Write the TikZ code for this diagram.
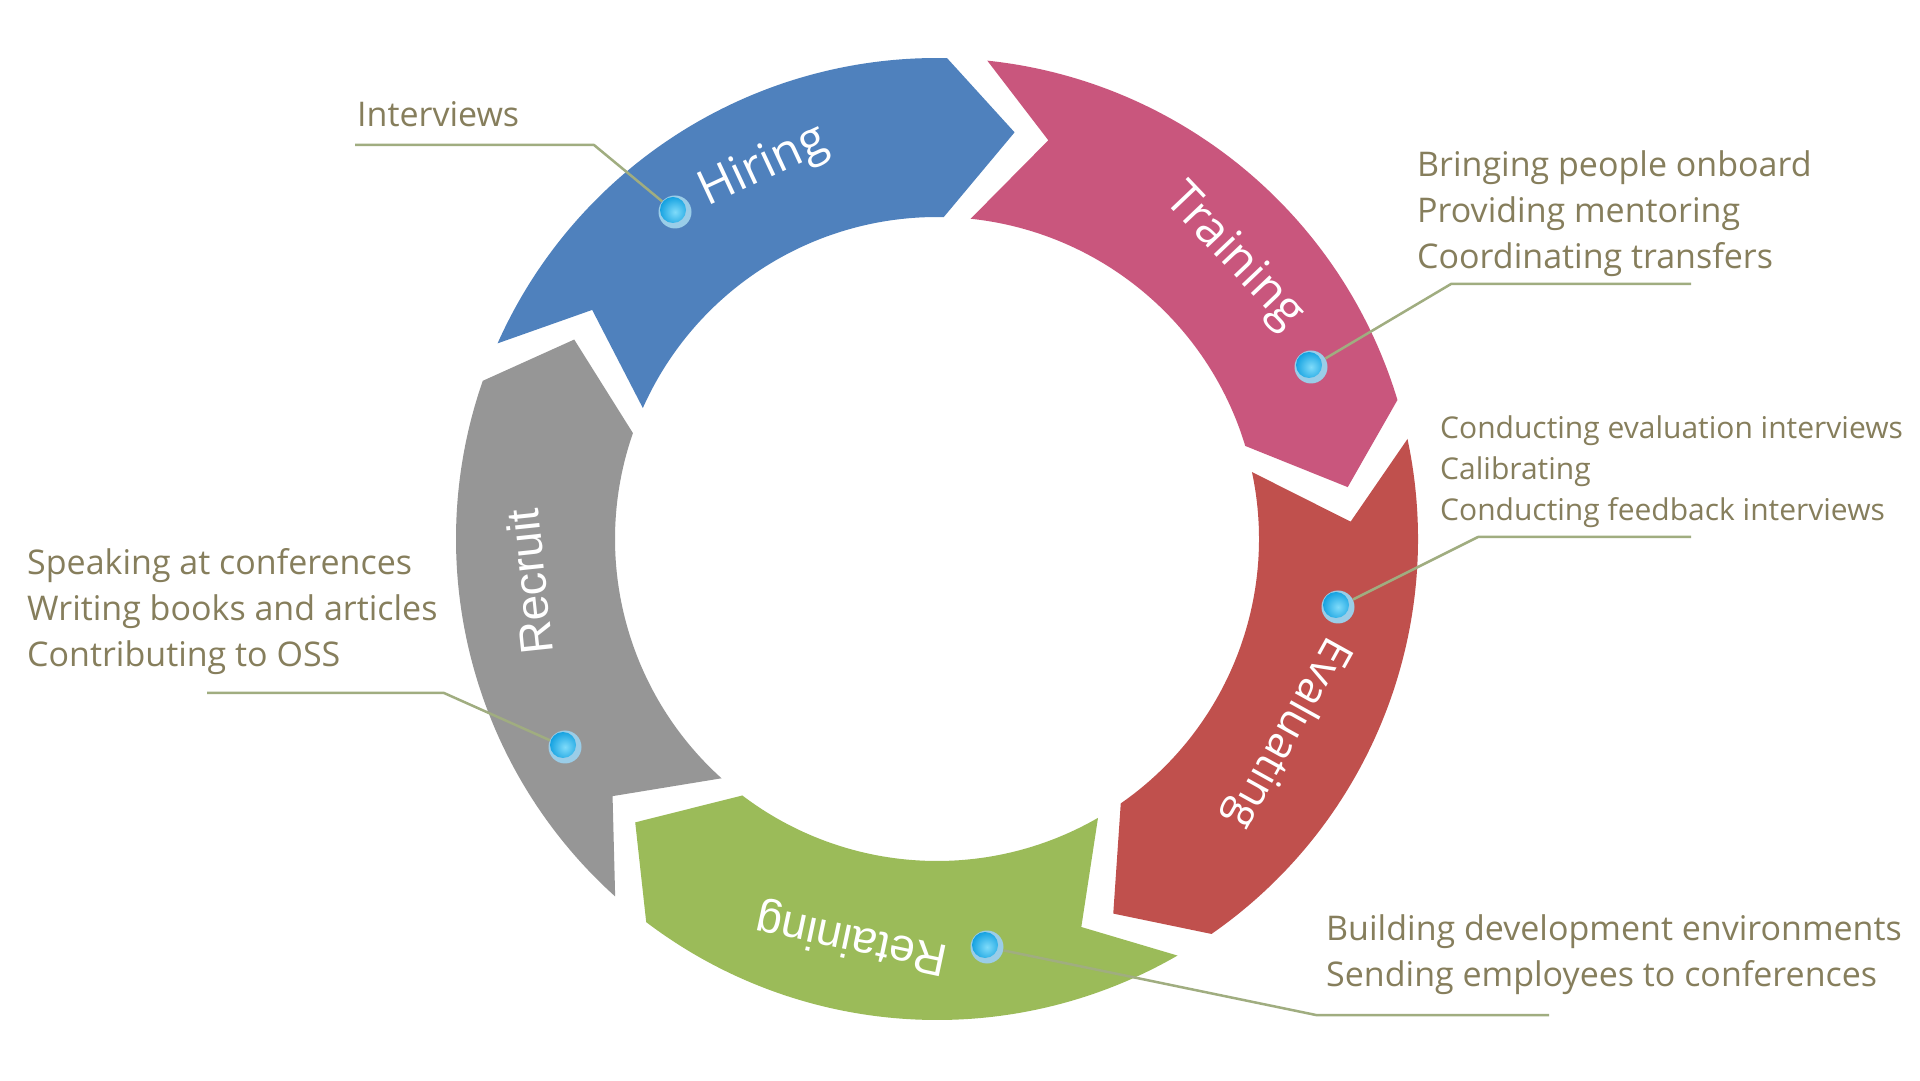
\documentclass[tikz,border=0pt]{standalone}
\usepackage{fontspec}
\setmainfont{Open Sans}
\newfontfamily\arialfam{Liberation Sans}
\definecolor{hirecol}{HTML}{4F81BD}
\definecolor{traincol}{HTML}{C9567D}
\definecolor{evalcol}{HTML}{C0504D}
\definecolor{retcol}{HTML}{9BBB59}
\definecolor{reccol}{HTML}{969696}
\definecolor{txtcol}{HTML}{867E5C}
\definecolor{leadcol}{HTML}{A0AD80}
\definecolor{dotrimcol}{HTML}{9ACDE8}
\definecolor{dotincol}{HTML}{7FDBFA}
\definecolor{dotoutcol}{HTML}{0E9EDF}
\begin{document}
\begin{tikzpicture}[x=1pt,y=1pt,
  seglabel/.style={text=white, inner sep=0pt, font=\fontsize{48}{48}\selectfont},
  seglabelb/.style={text=white, inner sep=0pt, font=\arialfam\fontsize{46}{46}\selectfont},
  notetext/.style={text=txtcol, anchor=base west, inner sep=0pt, font=\fontsize{34}{46}\selectfont},
  smallnote/.style={notetext, font=\fontsize{30}{38}\selectfont},
  leaderline/.style={draw=leadcol, line width=2.5pt, line join=round},
  dotnode/.style={circle, inner sep=0pt, minimum size=33pt, fill=dotrimcol,
    path picture={\shade[inner color=dotincol, outer color=dotoutcol]
      ([shift={(-2pt,2pt)}]path picture bounding box.center) circle[radius=13pt];}}
]
\useasboundingbox (0,0) rectangle (1920,1080);
\fill[white] (0,0) rectangle (1920,1080);

% ring segments
\begin{scope}[shift={(937,541)}]
  \foreach \tailang/\segcol in {156/hirecol, 84/traincol, 12/evalcol, -60/retcol, -132/reccol} {
    \pgfmathsetmacro\segH{\tailang-67.2}
    \pgfmathsetmacro\segP{\tailang-76.8}
    \pgfmathsetmacro\segN{\tailang-9.6}
    \fill[\segcol] (\tailang:481) arc[start angle=\tailang, end angle=\segH, radius=481]
      -- (\segP:414) -- (\segH:322) arc[start angle=\segH, end angle=\tailang, radius=322]
      -- (\segN:414) -- cycle;
  }
\end{scope}

% dots
\node[dotnode] (dHire) at (675,868) {};
\node[dotnode] (dTrain) at (1311,713) {};
\node[dotnode] (dEval) at (1338,473) {};
\node[dotnode] (dRet) at (987,133) {};
\node[dotnode] (dRec) at (565,333) {};

% leader line coordinates
\coordinate (kHire) at (594,935);
\coordinate (eHire) at (355,935);
\coordinate (kTrain) at (1451,796);
\coordinate (eTrain) at (1691,796);
\coordinate (kEval) at (1478,543);
\coordinate (eEval) at (1691,543);
\coordinate (kRet) at (1316,65);
\coordinate (eRet) at (1549,65);
\coordinate (kRec) at (444,387);
\coordinate (eRec) at (207,387);

\draw[leaderline] (eHire) -- (kHire) -- (dHire);
\draw[leaderline] (eTrain) -- (kTrain) -- (dTrain);
\draw[leaderline] (eEval) -- (kEval) -- (dEval);
\draw[leaderline] (eRet) -- (kRet) -- (dRet);
\draw[leaderline] (eRec) -- (kRec) -- (dRec);

% segment labels
\begin{scope}[shift={(937,541)}]
  \node[seglabel, rotate=25] (lHire) at (115:410) {Hiring};
  \node[seglabel, rotate=-46.5] (lTrain) at (43.5:409) {Training};
  \node[seglabel, font=\fontsize{44}{44}\selectfont, rotate=-119] (lEval) at (-29:400) {Evaluating};
  \node[seglabelb, rotate=168] (lRet) at (-102:408) {Retaining};
  \node[seglabelb, rotate=96] (lRec) at (186:410) {Recruit};
\end{scope}

% notes
\node[notetext] (nInt) at (357,953) {Interviews};
\node[notetext] (nTrainA) at (1417,903) {Bringing people onboard};
\node[notetext] (nTrainB) at (1417,857) {Providing mentoring};
\node[notetext] (nTrainC) at (1417,811) {Coordinating transfers};
\node[smallnote] (nEvalA) at (1440,641) {Conducting evaluation interviews};
\node[smallnote] (nEvalB) at (1440,600) {Calibrating};
\node[smallnote] (nEvalC) at (1440,559) {Conducting feedback interviews};
\node[notetext] (nRecA) at (27,505) {Speaking at conferences};
\node[notetext] (nRecB) at (27,459) {Writing books and articles};
\node[notetext] (nRecC) at (27,413) {Contributing to OSS};
\node[notetext] (nRetA) at (1326,140) {Building development environments};
\node[notetext] (nRetB) at (1326,94) {Sending employees to conferences};
\end{tikzpicture}
\end{document}
